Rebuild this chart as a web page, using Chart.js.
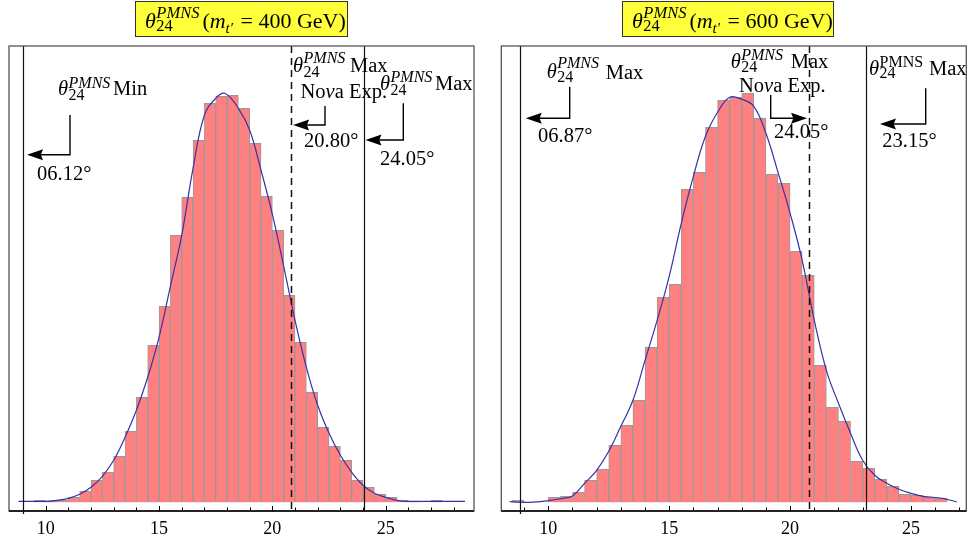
<!DOCTYPE html>
<html><head><meta charset="utf-8">
<script src="https://cdn.jsdelivr.net/npm/chart.js@4.4.0/dist/chart.umd.min.js"></script>
<style>
html,body{margin:0;padding:0;background:#fff;}
#wrap{position:relative;width:968px;height:546px;background:#fff;}
canvas{position:absolute;left:0;top:0;}
</style></head><body>
<div id="wrap"><canvas id="c1" width="968" height="546"></canvas><canvas id="c2" width="968" height="546"></canvas></div>
<script>
// ---------------- DATA ----------------
// Panel 1: m_t' = 400 GeV  (bin centres, 0.5 wide bins)
const binCentersL = [9.75,10.25,10.75,11.25,11.75,12.25,12.75,13.25,13.75,14.25,14.75,15.25,15.75,16.25,16.75,17.25,17.75,18.25,18.75,19.25,19.75,20.25,20.75,21.25,21.75,22.25,22.75,23.25,23.75,24.25,24.75,25.25,25.75,26.25,26.75,27.25,27.75];
const countsL     = [2,1,2,5,11,22,30,46,71,105,157,196,267,305,362,399,406,407,394,359,306,272,207,160,110,75,56,42,22,15,8,5,2,1,0,2,0];
const curveXL = [8.8,9.5,10,10.5,11,11.5,12,12.5,13,13.5,14,14.5,15,15.5,16,16.5,17,17.5,17.9,18.5,19,19.5,20,20.5,21,21.5,22,22.5,23,23.5,24,24.5,25,25.5,26,27,28.5];
const curveYL = [1,1,1,2,4,8,15,26,42,65,92,125,165,216,267,334,387,404,409,394,372,332,288,236,182,135,97,69,47,30,17,9,5,2,1,1,1];
const vLinesL = [9.0, 20.80, 24.05];

// Panel 2: m_t' = 600 GeV
const binCentersR = [8.75,9.25,9.75,10.25,10.75,11.25,11.75,12.25,12.75,13.25,13.75,14.25,14.75,15.25,15.75,16.25,16.75,17.25,17.75,18.25,18.75,19.25,19.75,20.25,20.75,21.25,21.75,22.25,22.75,23.25,23.75,24.25,24.75,25.25,25.75,26.25];
const countsR     = [2,0,0,5,6,10,22,33,57,77,102,155,205,218,313,330,375,402,405,409,384,328,319,251,227,137,95,81,41,34,23,16,8,7,5,4];
const curveXR = [8.4,9.2,10,10.6,11,11.5,12,12.5,13,13.5,14,14.5,15,15.5,16,16.5,17,17.5,18,18.5,19,19.5,20,20.5,21,21.5,22,22.5,23,23.5,24,24.5,25,25.5,26.3,26.9];
const curveYR = [0.6,0,1.6,4,6.3,19,32,51,76,102,142,182,226,279,326,366,390,405,403,396,369,330,289,242,182,132,99,69,42,27,19,13,9,6,4,0.3];
const vLinesR = [8.82, 20.80, 23.15];

const tickLabels = [10,15,20,25];
const titleMass = ['400','600'];
const angleTextL = ['06.12°','20.80°','24.05°'];
const angleTextR = ['06.87°','24.05°','23.15°'];

// ---------------- DRAWING ----------------
const SERIF = '"Liberation Serif","Times New Roman",serif';
function txt(ctx, s, x, y, size, italic){
  ctx.font = (italic ? 'italic ' : '') + size + 'px ' + SERIF;
  ctx.fillText(s, x, y);
  return ctx.measureText(s).width;
}
function thetaLabel(ctx, o){
  const w = txt(ctx, 'θ', o.x, o.base, o.size || 20.5, true);
  const sx = o.x + w + 0.5;
  const w1 = txt(ctx, 'PMNS', sx, o.supBase, o.ssize || 16, o.supItalic);
  const w2 = txt(ctx, '24', sx, o.subBase, o.ssize || 16, false);
  return sx + Math.max(w1, w2);
}
function arrow(ctx, x0, y0, y1, tipX){
  const dir = Math.sign(tipX - x0);
  const L = 16, hw = 5.5;
  ctx.strokeStyle = '#000'; ctx.fillStyle = '#000'; ctx.lineWidth = 1.4;
  ctx.beginPath(); ctx.moveTo(x0, y0); ctx.lineTo(x0, y1); ctx.lineTo(tipX - dir*L*0.7, y1); ctx.stroke();
  ctx.beginPath(); ctx.moveTo(tipX, y1); ctx.lineTo(tipX - dir*L, y1 - hw);
  ctx.lineTo(tipX - dir*L*0.86, y1); ctx.lineTo(tipX - dir*L, y1 + hw); ctx.closePath(); ctx.fill();
}
function novaText(ctx, x, base){
  let w = txt(ctx, 'No', x, base, 20.5, false);
  w += txt(ctx, 'v', x + w, base, 20.5, true);
  txt(ctx, 'a Exp.', x + w, base, 20.5, false);
}
function drawTitle(ctx, box, x, mass){
  ctx.fillStyle = '#ffff3c'; ctx.fillRect(box[0], box[1], box[2], box[3]);
  ctx.strokeStyle = '#333'; ctx.lineWidth = 1; ctx.strokeRect(box[0]+0.5, box[1]+0.5, box[2]-1, box[3]-1);
  ctx.fillStyle = '#000';
  let cx = thetaLabel(ctx, {x:x, base:28, supBase:18, subBase:31, supItalic:true, size:22, ssize:16.5}) + 3;
  cx += txt(ctx, '(', cx, 28, 22, false);
  cx += txt(ctx, 'm', cx, 28, 22, true);
  cx += txt(ctx, 't′', cx, 33, 15, true) + 2;
  txt(ctx, ' = ' + mass + ' GeV)', cx, 28, 22, false);
}

function panelPlugin(p){
  return {
    id: 'panel' + p.idx,
    afterDatasetsDraw(chart){
      const ctx = chart.ctx, a = chart.chartArea, xs = chart.scales.x;
      ctx.save();
      p.lines.forEach((v, i) => {
        const px = Math.round(xs.getPixelForValue(v)) + 0.5;
        ctx.strokeStyle = '#111';
        ctx.lineWidth = (i === 1) ? 1.5 : 1.2;
        ctx.setLineDash(i === 1 ? [7, 5] : []);
        ctx.beginPath(); ctx.moveTo(px, a.top); ctx.lineTo(px, a.bottom + (i === 0 ? 3 : 0)); ctx.stroke();
      });
      ctx.setLineDash([]);
      ctx.strokeStyle = '#555'; ctx.lineWidth = 1.3;
      ctx.strokeRect(a.left, a.top, a.right - a.left, a.bottom - a.top);
      ctx.strokeStyle = '#000'; ctx.lineWidth = 1.6;
      ctx.beginPath(); ctx.moveTo(a.left, a.bottom); ctx.lineTo(a.right, a.bottom); ctx.stroke();
      ctx.lineWidth = 1;
      for (let v = Math.ceil(xs.min); v <= Math.floor(xs.max); v++) {
        const px = Math.round(xs.getPixelForValue(v)) + 0.5;
        const len = (v % 5 === 0) ? 5 : 3.5;
        ctx.beginPath(); ctx.moveTo(px, a.bottom); ctx.lineTo(px, a.bottom - len); ctx.stroke();
      }
      ctx.restore();
    },
    afterDraw(chart){
      const ctx = chart.ctx, xs = chart.scales.x;
      ctx.save();
      ctx.textBaseline = 'alphabetic';
      drawTitle(ctx, p.titleBox, p.titleX, p.mass);
      ctx.fillStyle = '#000';
      p.labels.forEach((l, i) => {
        thetaLabel(ctx, l.theta);
        txt(ctx, l.suffix[0], l.suffix[1], l.suffix[2], 20.5, false);
        if (l.nova) novaText(ctx, l.nova[0], l.nova[1]);
        const tip = xs.getPixelForValue(p.lines[i]) + l.arrow[3];
        arrow(ctx, l.arrow[0], l.arrow[1], l.arrow[2], tip);
        ctx.fillStyle = '#000';
        txt(ctx, p.angles[i], l.val[0], l.val[1], 20.5, false);
      });
      ctx.restore();
    }
  };
}

const layoutL = {
  idx: 1, lines: vLinesL, angles: angleTextL, mass: titleMass[0],
  titleBox: [135, 1, 213, 36], titleX: 145,
  labels: [
    {theta:{x:58, base:94.5, supBase:88, subBase:100, supItalic:true}, suffix:['Min',113,94.5], arrow:[70,115,154.7,4], val:[37,179.5]},
    {theta:{x:293, base:72, supBase:63, subBase:76.5, supItalic:true}, suffix:['Max',350,72], nova:[300.5,97.5], arrow:[325,106,125,2.6], val:[304,146.5]},
    {theta:{x:380, base:90, supBase:82, subBase:95, supItalic:true}, suffix:['Max',435,90], arrow:[403.3,103.3,140,1.3], val:[380,165]}
  ]
};
const layoutR = {
  idx: 2, lines: vLinesR, angles: angleTextR, mass: titleMass[1],
  titleBox: [622, 1, 212, 36], titleX: 632,
  labels: [
    {theta:{x:546.7, base:78, supBase:68, subBase:81.5, supItalic:true}, suffix:['Max',605.7,78.5], arrow:[569.7,86.7,118.3,6], val:[538,141.5]},
    {theta:{x:730.7, base:68, supBase:60, subBase:71.7, supItalic:true}, suffix:['Max',790.7,68.3], nova:[739,91.7], arrow:[770.7,95,118.3,-2.4], val:[774,138.3]},
    {theta:{x:869, base:75, supBase:66.7, subBase:78.3, supItalic:false}, suffix:['Max',929,75], arrow:[925.7,88.3,124,13.7], val:[882.3,146.5]}
  ]
};

function makeChart(id, binX, binY, cX, cY, xMin, xMax, padL, padR, layout){
  return new Chart(document.getElementById(id), {
    type: 'bar',
    data: { datasets: [
      { type: 'line', data: cX.map((x, i) => ({x: x, y: cY[i]})), borderColor: '#3434a8', borderWidth: 1.2,
        pointRadius: 0, tension: 0.4, fill: false, order: 0 },
      { type: 'bar', data: binX.map((x, i) => ({x: x, y: binY[i]})), backgroundColor: '#ff8080',
        borderColor: '#999999', borderWidth: 1, barPercentage: 1, categoryPercentage: 1, order: 1 }
    ]},
    options: {
      responsive: false, animation: false, events: [],
      layout: { padding: { left: padL, right: padR, top: 46, bottom: 0 } },
      plugins: { legend: { display: false }, tooltip: { enabled: false } },
      scales: {
        x: { type: 'linear', min: xMin, max: xMax, offset: false,
             grid: { display: false, drawTicks: false }, border: { display: false },
             afterBuildTicks: s => { s.ticks = tickLabels.map(v => ({value: v})); },
             afterFit: s => { s.height = 35; },
             ticks: { autoSkip: false, maxRotation: 0, padding: 7, color: '#000',
                      font: { family: SERIF, size: 18 }, callback: v => String(v) } },
        y: { display: false, min: -8.7, max: 456.3 }
      }
    },
    plugins: [panelPlugin(layout)]
  });
}

makeChart('c1', binCentersL, countsL, curveXL, curveYL, 8.381, 28.895, 9, 494, layoutL);
makeChart('c2', binCentersR, countsR, curveXR, curveYR, 8.056, 27.287, 501.3, 1.7, layoutR);
</script>
</body></html>
